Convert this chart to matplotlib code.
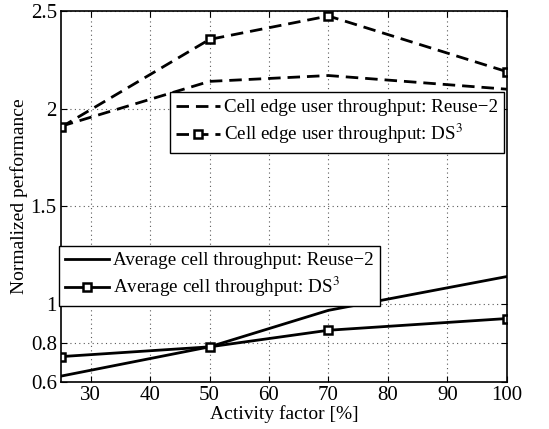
import matplotlib
matplotlib.use('Agg')
import matplotlib.pyplot as plt

plt.rcParams['font.family'] = ['Liberation Serif', 'DejaVu Serif']
plt.rcParams['mathtext.fontset'] = 'stix'

activity = [25, 50, 70, 100]
edge_reuse2 = [1.91, 2.14, 2.17, 2.10]
edge_ds3 = [1.905, 2.355, 2.475, 2.19]
avg_reuse2 = [0.63, 0.78, 0.967, 1.14]
avg_ds3 = [0.73, 0.78, 0.865, 0.925]

yticks = [0.6, 0.8, 1, 1.5, 2, 2.5]
ytick_labels = ['0.6', '0.8', '1', '1.5', '2', '2.5']
xticks = [30, 40, 50, 60, 70, 80, 90, 100]

fig = plt.figure(figsize=(5.49, 4.29), dpi=100)
ax = fig.add_axes([0.111, 0.1096, 0.812, 0.8645])

mk = dict(marker='s', markersize=5.5, markerfacecolor='white', markeredgecolor='black', markeredgewidth=1.8)

l1, = ax.plot(activity, edge_reuse2, 'k--', lw=2, dashes=(4.5, 2.5), label='Cell edge user throughput: Reuse\u22122')
l2, = ax.plot(activity, edge_ds3, 'k--', lw=2, dashes=(4.5, 2.5), label='Cell edge user throughput: DS$^3$', **mk)
l3, = ax.plot(activity, avg_reuse2, 'k-', lw=2, label='Average cell throughput: Reuse\u22122')
l4, = ax.plot(activity, avg_ds3, 'k-', lw=2, label='Average cell throughput: DS$^3$', **mk)

ax.set_xlim(25, 100)
ax.set_ylim(0.6, 2.5)
ax.set_xticks(xticks)
ax.set_yticks(yticks)
ax.set_yticklabels(ytick_labels)
ax.tick_params(labelsize=15, direction='in', length=4, top=True, right=True, pad=3)
ax.grid(True, linestyle=(0, (1, 3)), color='0.35', lw=0.8)
for s in ax.spines.values():
    s.set_linewidth(1.2)

ax.set_xlabel('Activity factor [%]', fontsize=14, labelpad=0)
ax.set_ylabel('Normalized performance', fontsize=14, labelpad=2)

leg1 = ax.legend(handles=[l1, l2], loc='upper right', bbox_to_anchor=(0.995, 0.781),
                 fontsize=13.7, numpoints=1, handlelength=2.3, handletextpad=0.2,
                 fancybox=False, edgecolor='black', framealpha=1,
                 borderpad=0.35, labelspacing=0.3, borderaxespad=0)
leg1.get_frame().set_linewidth(1.0)
ax.add_artist(leg1)
leg2 = ax.legend(handles=[l3, l4], loc='upper left', bbox_to_anchor=(-0.005, 0.368),
                 fontsize=13.7, numpoints=1, handlelength=2.3, handletextpad=0.2,
                 fancybox=False, edgecolor='black', framealpha=1,
                 borderpad=0.35, labelspacing=0.3, borderaxespad=0)
leg2.get_frame().set_linewidth(1.0)

fig.savefig('out.png', dpi=100)
